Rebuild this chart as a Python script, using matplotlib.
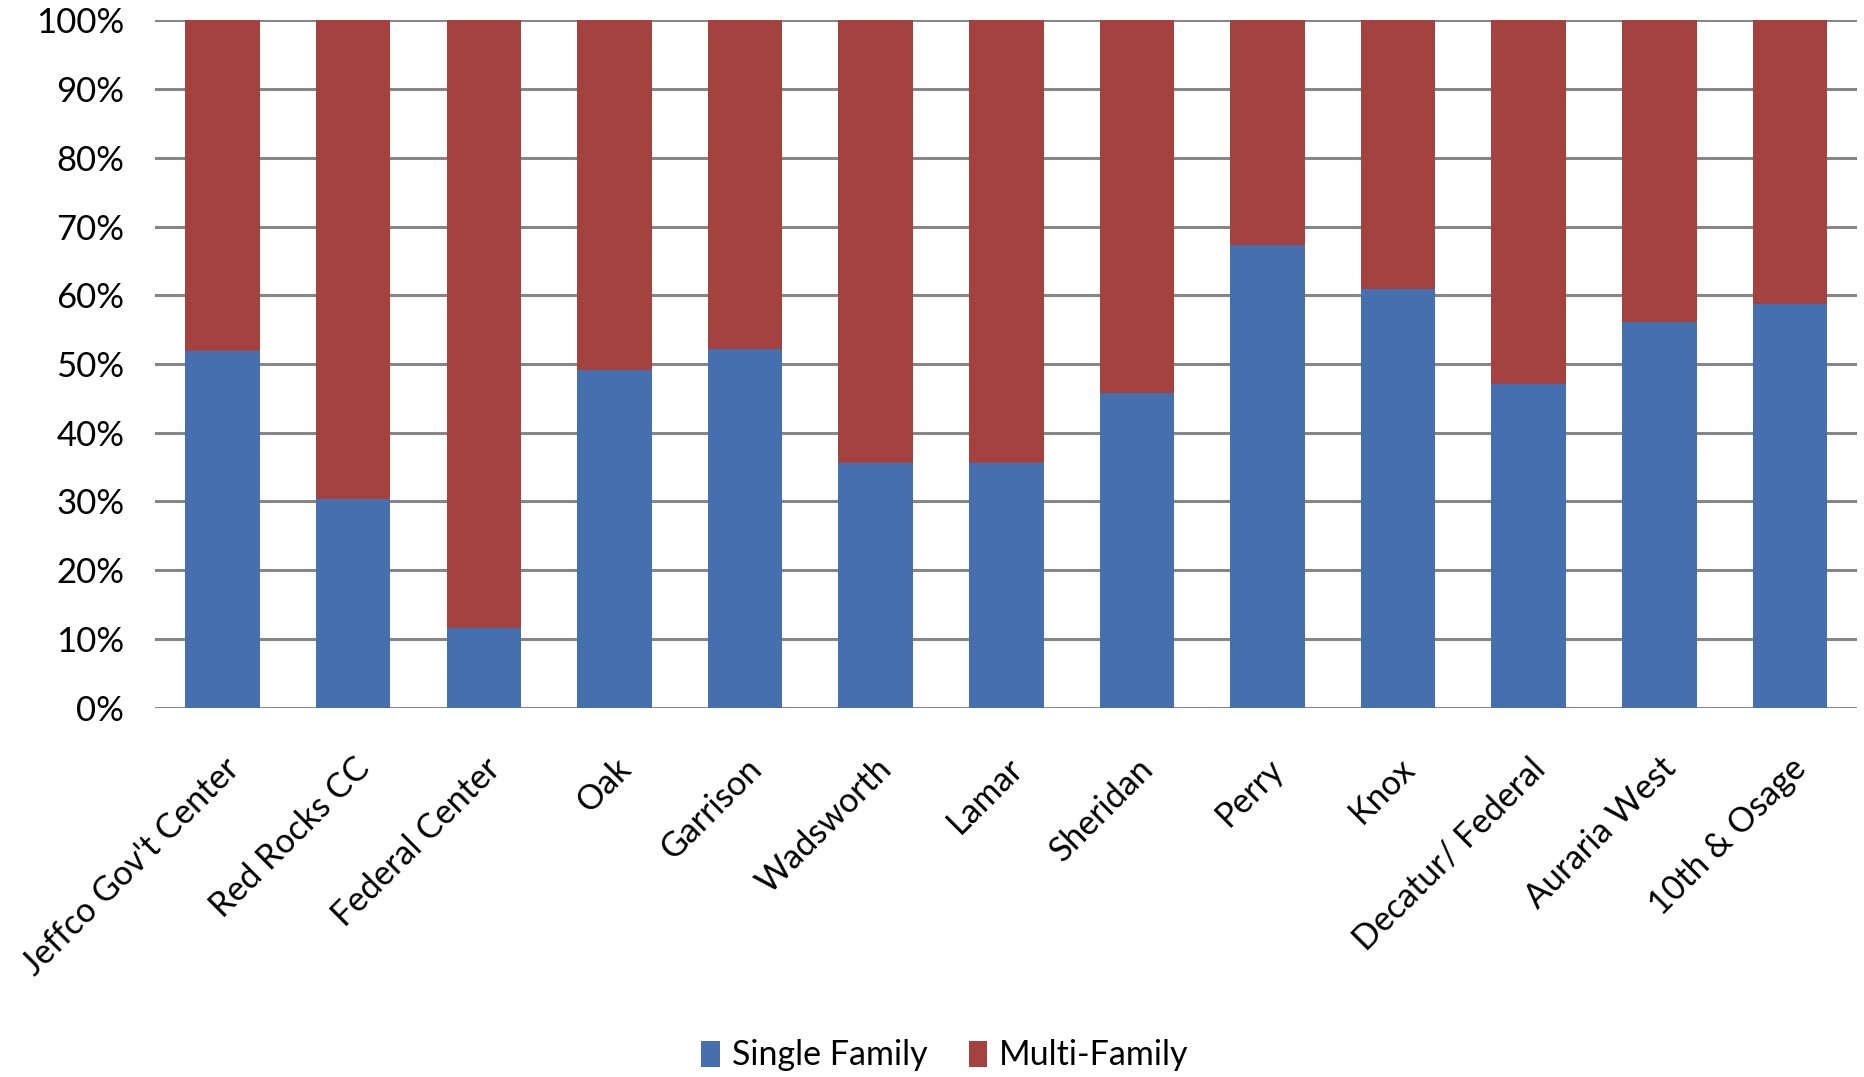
import numpy as np
import matplotlib
matplotlib.use("Agg")
import matplotlib.pyplot as plt
from matplotlib.ticker import FuncFormatter

# Station areas and the share of single-family housing (percent)
stations = ["Jeffco Gov't Center", "Red Rocks CC", "Federal Center", "Oak",
            "Garrison", "Wadsworth", "Lamar", "Sheridan", "Perry", "Knox",
            "Decatur/ Federal", "Auraria West", "10th & Osage"]
single_family = np.array([51.9, 30.3, 11.6, 49.1, 52.2, 35.6, 35.6,
                          45.8, 67.3, 60.9, 47.1, 56.1, 58.8])
multi_family = 100 - single_family

blue = "#4670AD"
red = "#A3423F"

plt.rcParams['font.family'] = ['Lato', 'DejaVu Sans']

fig = plt.figure(figsize=(18.64, 10.77), dpi=100)
ax = fig.add_axes([0.083, 0.343, 0.913, 0.638])

x = np.arange(len(stations))
ax.bar(x, single_family, width=0.57, color=blue, label="Single Family", zorder=3)
ax.bar(x, multi_family, width=0.57, bottom=single_family, color=red,
       label="Multi-Family", zorder=3)

ax.set_ylim(0, 100)
ax.set_xlim(-0.52, len(stations) - 0.49)
ax.set_yticks(np.arange(0, 101, 10))
ax.yaxis.set_major_formatter(FuncFormatter(lambda v, p: f"{v:.0f}%"))
ax.grid(axis='y', color="#868686", linewidth=2.2, zorder=0)
for s in ax.spines.values():
    s.set_visible(False)
ax.tick_params(axis='y', length=0, labelsize=25, pad=22)
ax.tick_params(axis='x', length=0, labelsize=24.5, pad=32)
ax.set_xticks(x)
ax.set_xticklabels(stations, rotation=45, ha='right', rotation_mode='anchor')

fig.legend(*ax.get_legend_handles_labels(), loc='center',
           bbox_to_anchor=(0.507, 0.02), ncol=2, frameon=False,
           fontsize=24.5, handlelength=0.55, handleheight=0.8, handletextpad=0.35,
           columnspacing=1.2)

fig.savefig("out.png", dpi=100)
